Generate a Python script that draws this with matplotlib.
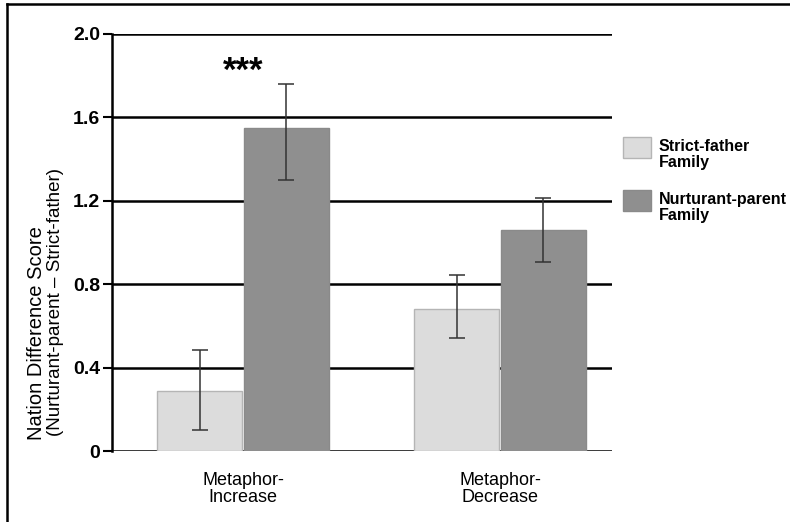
import matplotlib
matplotlib.use("Agg")
import matplotlib.pyplot as plt
from matplotlib.lines import Line2D
from matplotlib.patches import Rectangle
import numpy as np

plt.rcParams['font.family'] = ['Liberation Sans', 'DejaVu Sans']

categories = ["Metaphor-\nIncrease", "Metaphor-\nDecrease"]
series_names = ["Strict-father\nFamily", "Nurturant-parent\nFamily"]
strict_vals = [0.29, 0.68]
strict_err_lo = [0.19, 0.14]
strict_err_hi = [0.195, 0.163]
nurt_vals = [1.55, 1.06]
nurt_err_lo = [0.25, 0.153]
nurt_err_hi = [0.208, 0.153]
yticks = [0, 0.4, 0.8, 1.2, 1.6, 2.0]
ytick_labels = ["0", "0.4", "0.8", "1.2", "1.6", "2.0"]

fig = plt.figure(figsize=(7.9, 5.22), dpi=100)
ax = fig.add_axes([112/790, 1-451/522, 500/790, 417/522])

x = np.array([0.0, 1.0])
w = 0.33
light = "#dcdcdc"
dark = "#8f8f8f"
colors = [light, dark]
edges = ["#b5b5b5", "#8a8a8a"]
ax.bar(x - w/2 - 0.004, strict_vals, w, color=light, edgecolor=edges[0], linewidth=1, zorder=3)
ax.bar(x + w/2 + 0.004, nurt_vals, w, color=dark, edgecolor=edges[1], linewidth=1, zorder=3)
ax.errorbar(x - w/2 - 0.004, strict_vals, yerr=[strict_err_lo, strict_err_hi], fmt='none',
            ecolor="#333333", elinewidth=1.1, capsize=6, capthick=1.1, zorder=4)
ax.errorbar(x + w/2 + 0.004, nurt_vals, yerr=[nurt_err_lo, nurt_err_hi], fmt='none',
            ecolor="#333333", elinewidth=1.1, capsize=6, capthick=1.1, zorder=4)

ax.set_ylim(0, 2.0)
ax.set_xlim(-0.51, 1.436)
ax.set_yticks(yticks)
ax.set_yticklabels(ytick_labels, fontweight='bold', fontsize=14)
for yv in yticks:
    ax.axhline(yv, color='black', linewidth=1.8, zorder=1)
ax.tick_params(axis='y', length=6.5, width=1.5, pad=2)
ax.set_xticks(x)
ax.set_xticklabels(categories, fontsize=13, linespacing=1.05)
ax.tick_params(axis='x', length=0, pad=15)
for s in ['top', 'right', 'bottom']:
    ax.spines[s].set_visible(False)
ax.spines['left'].set_linewidth(1.8)

ax.text(0.0, 1.82, "***", ha='center', va='center', fontsize=25, fontweight='bold')

fig.text(37/790, 1-333/522, "Nation Difference Score", rotation=90, ha='center', va='center', fontsize=14.5)
fig.text(56/790, 1-302/522, "(Nurturant-parent \u2013 Strict-father)", rotation=90, ha='center', va='center', fontsize=13.5)

# legend drawn manually
leg_tops = [137, 190]
for i, name in enumerate(series_names):
    top = leg_tops[i]
    fig.add_artist(Rectangle((623/790, 1-(top+21)/522), 28/790, 21/522, transform=fig.transFigure,
                             facecolor=colors[i], edgecolor=edges[i], linewidth=1))
    fig.text(659/790, 1-(top+2)/522, name, ha='left', va='top', fontsize=11.5, fontweight='bold',
             linespacing=1.1)

# outer border (cropped on right and bottom)
fig.add_artist(Line2D([7/790, 7/790], [0, 1-4/522], transform=fig.transFigure, color='black', linewidth=1.8))
fig.add_artist(Line2D([7/790, 1], [1-4/522, 1-4/522], transform=fig.transFigure, color='black', linewidth=1.8))

fig.savefig("out.png", dpi=100)
